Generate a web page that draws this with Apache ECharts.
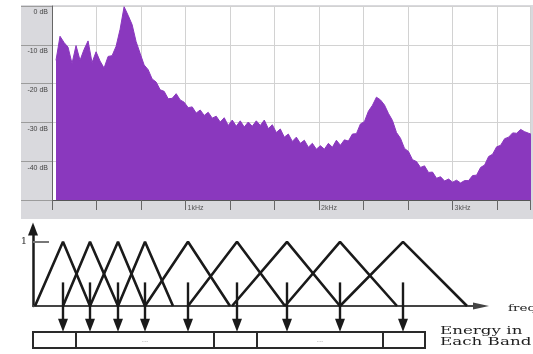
<!DOCTYPE html>
<html>
<head>
<meta charset="utf-8">
<title>Spectrum and triangular filter bank</title>
<script src="https://cdn.jsdelivr.net/npm/echarts@6.0.0/dist/echarts.min.js"></script>
<style>
  html, body { margin: 0; padding: 0; background: #fff; }
  #chart { width: 533px; height: 354px; }
</style>
</head>
<body>
<div id="chart"></div>
<script>
// spectrum level in dB, one value every 30 Hz starting at 30 Hz
const spectrumStartHz = 30;
const spectrumStepHz = 30;
const spectrumDb = [
  -14.0, -7.8, -9.4, -10.6, -14.8, -10.2, -14.0, -11.2, -9.0, -14.6,
  -11.8, -14.2, -16.0, -13.0, -12.8, -10.4, -6.0, -0.2, -2.4, -4.8,
  -9.2, -12.2, -15.2, -16.4, -18.8, -19.6, -21.6, -22.0, -23.9, -23.8,
  -22.6, -24.2, -24.8, -26.2, -26.0, -27.6, -26.8, -28.2, -27.4, -28.9,
  -28.4, -29.9, -28.8, -30.8, -29.4, -31.0, -29.6, -31.2, -29.9, -31.0,
  -29.6, -30.8, -29.4, -31.6, -30.6, -32.6, -31.7, -33.8, -33.0, -34.9,
  -33.8, -35.4, -34.6, -36.4, -35.4, -36.9, -36.0, -36.9, -35.4, -36.4,
  -34.6, -35.9, -34.5, -34.8, -33.0, -32.9, -30.4, -29.8, -27.1, -25.6,
  -23.5, -24.2, -25.5, -27.7, -29.5, -32.6, -34.1, -36.7, -37.5, -39.6,
  -40.1, -41.6, -41.2, -42.9, -42.8, -44.4, -44.0, -45.1, -44.6, -45.4,
  -44.9, -45.6, -45.0, -45.0, -43.7, -43.6, -41.6, -41.0, -38.8, -38.2,
  -36.3, -35.9, -34.2, -33.8, -32.7, -32.8, -31.8, -32.4, -32.8, -33.2
];

// tick labels of the spectrum axes
const kHzLabelValues = [1000, 2000, 3000];
const kHzLabels = ['1kHz', '2kHz', '3kHz'];
const dbLabelValues = [0, -10, -20, -30, -40];
const dbLabels = ['0 dB', '-10 dB', '-20 dB', '-30 dB', '-40 dB'];

// triangular filters: left foot, peak, right foot (diagram units)
const filterLeft = [2, 30, 57, 85, 112, 155, 199, 252, 307];
const filterCenter = [30, 57, 85, 112, 155, 204, 254, 307, 370];
const filterRight = [57, 85, 112, 140, 197, 252, 307, 364, 434];

// energy boxes: edges and labels
const bandEdges = [0, 43, 181, 224, 350, 392];
const bandLabels = ['', '...', '', '...', ''];

const purple = '#8a38be';
const ink = '#1a1a1a';

const chart = echarts.init(document.getElementById('chart'));

const spectrumData = spectrumDb.map((v, i) => [spectrumStartHz + i * spectrumStepHz, v]);

const filterSeries = filterCenter.map((c, i) => ({
  type: 'line',
  xAxisIndex: 1,
  yAxisIndex: 1,
  data: [[filterLeft[i], 0], [c, 1], [filterRight[i], 0]],
  symbol: 'none',
  silent: true,
  clip: false,
  lineStyle: { color: ink, width: 2.6 }
}));

const arrowLines = filterCenter.map(c => [{ coord: [c, 4.1] }, { coord: [c, 1.42] }]);
const bandAreas = bandLabels.map((name, i) => [
  { name: name, coord: [bandEdges[i], 0] },
  { coord: [bandEdges[i + 1], 1] }
]);

const option = {
  animation: false,
  graphic: [
    { type: 'rect', z: -10, shape: { x: 21, y: 5, width: 512, height: 214 }, style: { fill: '#d9d9dd' } },
    { type: 'text', x: 440, y: 331, scaleX: 1.52, style: { text: 'Energy in', font: '11px "DejaVu Serif"', fill: '#1e1e1e', verticalAlign: 'middle' } },
    { type: 'text', x: 440, y: 342, scaleX: 1.52, style: { text: 'Each Band', font: '11px "DejaVu Serif"', fill: '#1e1e1e', verticalAlign: 'middle' } },
    { type: 'text', x: 508, y: 309, scaleX: 1.5, style: { text: 'freq', font: '9px "DejaVu Serif"', fill: '#222', verticalAlign: 'middle' } }
  ],
  grid: [
    { left: 52, top: 6, width: 481, height: 194, show: true, backgroundColor: '#fff', borderWidth: 0 },
    { left: 33, top: 229, width: 448, height: 77 },
    { left: 33, top: 282, width: 448, height: 66 }
  ],
  xAxis: [
    {
      gridIndex: 0, type: 'value', min: 0, max: 3580, interval: 1000 / 3,
      axisLine: { show: true, onZero: false, lineStyle: { color: '#555', width: 1 } },
      axisTick: { show: true, length: 10, lineStyle: { color: '#666' } },
      splitLine: { show: true, lineStyle: { color: '#d2d2d2' } },
      axisLabel: {
        fontSize: 7, color: '#555', margin: 5, align: 'left', padding: [0, 0, 0, 2],
        formatter: v => {
          const i = kHzLabelValues.findIndex(k => Math.abs(k - v) < 1);
          return i < 0 ? '' : kHzLabels[i];
        }
      }
    },
    {
      gridIndex: 1, type: 'value', min: 0, max: 448,
      axisLine: { show: true, symbol: ['none', 'triangle'], symbolSize: [7, 16], lineStyle: { color: '#444', width: 2 } },
      axisTick: { show: false }, axisLabel: { show: false }, splitLine: { show: false }
    },
    { gridIndex: 2, type: 'value', min: 0, max: 448, show: false }
  ],
  yAxis: [
    {
      gridIndex: 0, type: 'value', min: -50, max: 0, interval: 10,
      axisLine: { show: true, onZero: false, lineStyle: { color: '#666', width: 1 } },
      axisTick: { show: true, length: 31, lineStyle: { color: '#9c9c9c' } },
      splitLine: { show: true, lineStyle: { color: '#d2d2d2' } },
      axisLabel: {
        fontSize: 7, color: '#444', margin: 4, verticalAlign: 'top', padding: [3, 0, 0, 0],
        formatter: v => {
          const i = dbLabelValues.indexOf(v);
          return i < 0 ? '' : dbLabels[i];
        }
      }
    },
    {
      gridIndex: 1, type: 'value', min: 0, max: 1.2,
      axisLine: { show: true, symbol: ['none', 'triangle'], symbolSize: [10, 13], lineStyle: { color: ink, width: 2.5 } },
      axisTick: { show: true, inside: true, length: 16, customValues: [1], lineStyle: { color: '#777', width: 2 } },
      axisLabel: { show: true, customValues: [1], margin: 6, fontSize: 10, fontFamily: '"DejaVu Serif"', color: '#333' },
      splitLine: { show: false }
    },
    { gridIndex: 2, type: 'value', min: 0, max: 4.125, show: false }
  ],
  series: [
    {
      type: 'line',
      xAxisIndex: 0,
      yAxisIndex: 0,
      data: spectrumData,
      symbol: 'none',
      silent: true,
      lineStyle: { color: purple, width: 1 },
      areaStyle: { color: purple, opacity: 1, origin: 'start' }
    },
    ...filterSeries,
    {
      type: 'line',
      xAxisIndex: 2,
      yAxisIndex: 2,
      data: [],
      silent: true,
      markLine: {
        silent: true,
        symbol: ['none', 'triangle'],
        symbolSize: [10, 13],
        label: { show: false },
        lineStyle: { color: ink, width: 2.4, type: 'solid' },
        data: arrowLines
      },
      markArea: {
        silent: true,
        itemStyle: { color: 'rgba(255,255,255,0)', borderColor: '#2a2a2a', borderWidth: 2 },
        label: { show: true, position: 'inside', formatter: '{b}', color: '#999', fontSize: 8 },
        data: bandAreas
      }
    }
  ]
};

chart.setOption(option);
window.addEventListener('resize', () => chart.resize());
</script>
</body>
</html>
